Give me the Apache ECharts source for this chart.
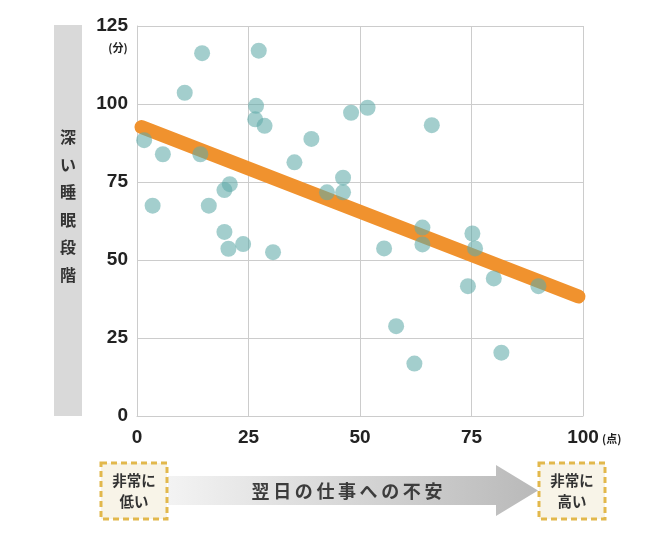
<!DOCTYPE html>
<html>
<head>
<meta charset="utf-8">
<script src="https://cdn.jsdelivr.net/npm/echarts@6/dist/echarts.min.js"></script>
<style>html,body{margin:0;padding:0;background:#fff}#c{width:650px;height:539px}</style>
</head>
<body>
<div id="c"></div>
<script>
// Data
const anxiety = [1.6, 3.5, 5.8, 10.7, 14.6, 14.2, 16.1, 19.6, 20.8, 19.6, 20.5, 23.8, 30.5, 27.3, 26.7, 26.5, 28.6, 35.3, 39.1, 42.6, 46.2, 46.2, 48.0, 51.7, 66.1, 55.4, 58.1, 62.2, 64.0, 64.0, 75.2, 75.8, 74.2, 80.0, 90.0, 81.7];
const deepSleep = [88.4, 67.4, 83.9, 103.6, 116.3, 83.9, 67.4, 72.4, 74.3, 59.0, 53.6, 55.1, 52.5, 117.1, 99.4, 95.1, 93.0, 81.3, 88.8, 71.7, 76.4, 71.7, 97.2, 98.8, 93.2, 53.7, 28.8, 16.8, 60.4, 55.0, 58.5, 53.7, 41.6, 44.1, 41.6, 20.3];
const trendX = [1, 99];
const trendY = [92.6, 38.3];
const xTicks = [0, 25, 50, 75, 100];
const yTicks = [0, 25, 50, 75, 100, 125];
const yTitle = ['深', 'い', '睡', '眠', '段', '階'];
const xTitle = '翌日の仕事への不安';

const points = anxiety.map((v, i) => [v, deepSleep[i]]);
const trend = trendX.map((v, i) => [v, trendY[i]]);

const numFont = '"Liberation Sans", Arial, sans-serif';
const jpFont = '"Noto Sans CJK JP", sans-serif';

const chart = echarts.init(document.getElementById('c'), null, {renderer: 'canvas'});
chart.setOption({
  animation: false,
  grid: {left: 137, right: 67, top: 26, bottom: 123},
  xAxis: {
    type: 'value', min: xTicks[0], max: xTicks[xTicks.length - 1], interval: 25,
    axisLine: {show: true, lineStyle: {color: '#cccccc', width: 1}},
    axisTick: {show: false},
    splitLine: {show: true, lineStyle: {color: '#cccccc', width: 1}},
    axisLabel: {margin: 12, fontSize: 19, fontWeight: 'bold', color: '#222', fontFamily: numFont}
  },
  yAxis: {
    type: 'value', min: yTicks[0], max: yTicks[yTicks.length - 1], interval: 25,
    axisLine: {show: true, lineStyle: {color: '#cccccc', width: 1}},
    axisTick: {show: false},
    splitLine: {show: true, lineStyle: {color: '#cccccc', width: 1}},
    axisLabel: {margin: 9, fontSize: 19, fontWeight: 'bold', color: '#222', fontFamily: numFont}
  },
  series: [
    {
      type: 'line', data: trend, symbol: 'none', z: 2,
      lineStyle: {color: '#F0922E', width: 14, cap: 'round'}
    },
    {
      type: 'scatter', data: points, symbolSize: 16, z: 3,
      itemStyle: {color: 'rgba(95,170,168,0.72)'}
    }
  ],
  graphic: [
    {type: 'rect', left: 54, top: 25, shape: {width: 28, height: 391}, style: {fill: '#d9d9d9'}, z: 0},
    {type: 'text', x: 68, y: 206, style: {text: yTitle.join('\n'), font: 'bold 16px ' + jpFont, lineHeight: 27.6, fill: '#333', align: 'center', verticalAlign: 'middle'}},
    {type: 'text', x: 118, y: 48, style: {text: '(分)', font: 'bold 11px ' + jpFont, fill: '#222', align: 'center', verticalAlign: 'middle'}},
    {type: 'text', x: 602, y: 439, style: {text: '(点)', font: 'bold 11px ' + jpFont, fill: '#222', align: 'left', verticalAlign: 'middle'}},
    // arrow
    {type: 'polygon', shape: {points: [[168, 476], [496, 476], [496, 465], [538, 490.5], [496, 516], [496, 505], [168, 505]]},
      style: {fill: new echarts.graphic.LinearGradient(0, 0, 1, 0, [{offset: 0, color: '#f3f3f3'}, {offset: 1, color: '#b9b9b9'}])}},
    {type: 'text', x: 347, y: 491, style: {text: xTitle.split('').join('\u2009'), font: 'bold 18px ' + jpFont, fill: '#3c3c3c', align: 'center', verticalAlign: 'middle'}},
    // boxes
    {type: 'rect', shape: {x: 101, y: 463, width: 66, height: 56}, style: {fill: '#f8f4e8', stroke: '#e2b84c', lineWidth: 3, lineDash: [6, 4]}},
    {type: 'text', x: 134, y: 491, style: {text: '非常に\n低い', font: 'bold 14.5px ' + jpFont, lineHeight: 21, fill: '#333', align: 'center', verticalAlign: 'middle'}},
    {type: 'rect', shape: {x: 539, y: 463, width: 66, height: 56}, style: {fill: '#f8f4e8', stroke: '#e2b84c', lineWidth: 3, lineDash: [6, 4]}},
    {type: 'text', x: 572, y: 491, style: {text: '非常に\n高い', font: 'bold 14.5px ' + jpFont, lineHeight: 21, fill: '#333', align: 'center', verticalAlign: 'middle'}}
  ]
});
</script>
</body>
</html>
